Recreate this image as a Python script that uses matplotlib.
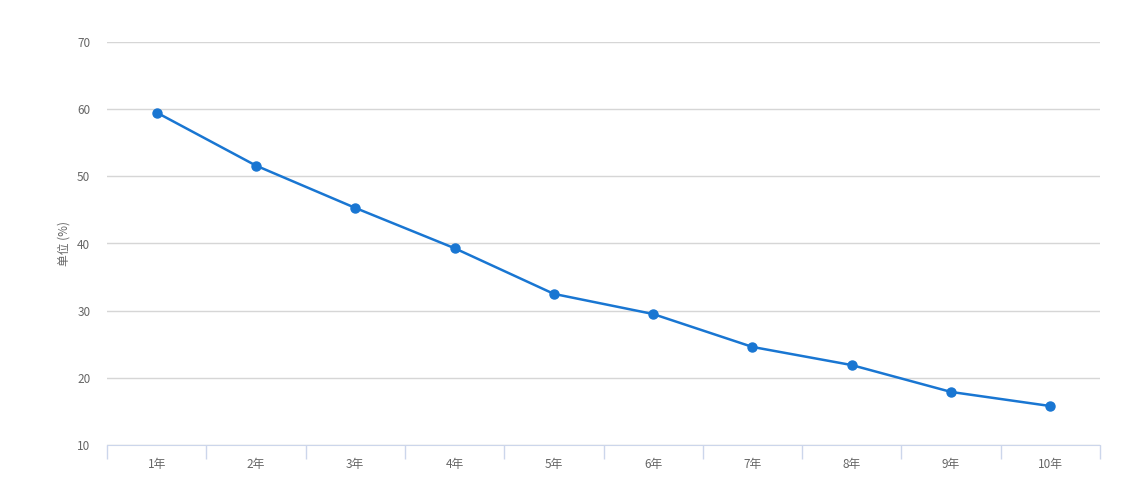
import numpy as np
import matplotlib.pyplot as plt

plt.rcParams['font.family'] = ['Noto Sans CJK SC', 'DejaVu Sans']

categories = ['1年', '2年', '3年', '4年', '5年', '6年', '7年', '8年', '9年', '10年']
values = [59.5, 51.6, 45.3, 39.3, 32.5, 29.5, 24.6, 21.9, 17.9, 15.8]

fig = plt.figure(figsize=(11.33, 4.98), dpi=100)
ax = fig.add_axes([107 / 1133, 53 / 498, 993 / 1133, 403 / 498])

x = np.arange(len(categories))
ax.plot(x, values, color='#1976d2', lw=1.8, marker='o', ms=6.5, zorder=3)

ax.set_xlim(-0.5, len(categories) - 0.5)
ax.set_ylim(10, 70)
ax.set_yticks(range(10, 71, 10))
ax.yaxis.grid(True, color='#d6d6d6', lw=1)
ax.set_axisbelow(True)

# category boundaries as tick marks, labels in the middle
ax.set_xticks(np.arange(-0.5, len(categories), 1))
ax.set_xticklabels([])
ax.tick_params(axis='x', which='major', length=10, color='#ccd6eb', width=1)
ax.set_xticks(x, minor=True)
ax.set_xticklabels(categories, minor=True)
ax.tick_params(axis='x', which='minor', length=0, pad=9, labelsize=8.5, labelcolor='#666666')
ax.tick_params(axis='y', length=0, pad=12, labelsize=8.5, labelcolor='#666666')

for s in ['top', 'right', 'left']:
    ax.spines[s].set_visible(False)
ax.spines['bottom'].set_color('#ccd6eb')

ax.set_ylabel('单位 (%)', fontsize=8.5, color='#666666', labelpad=5)

fig.savefig('out.png', dpi=100)
